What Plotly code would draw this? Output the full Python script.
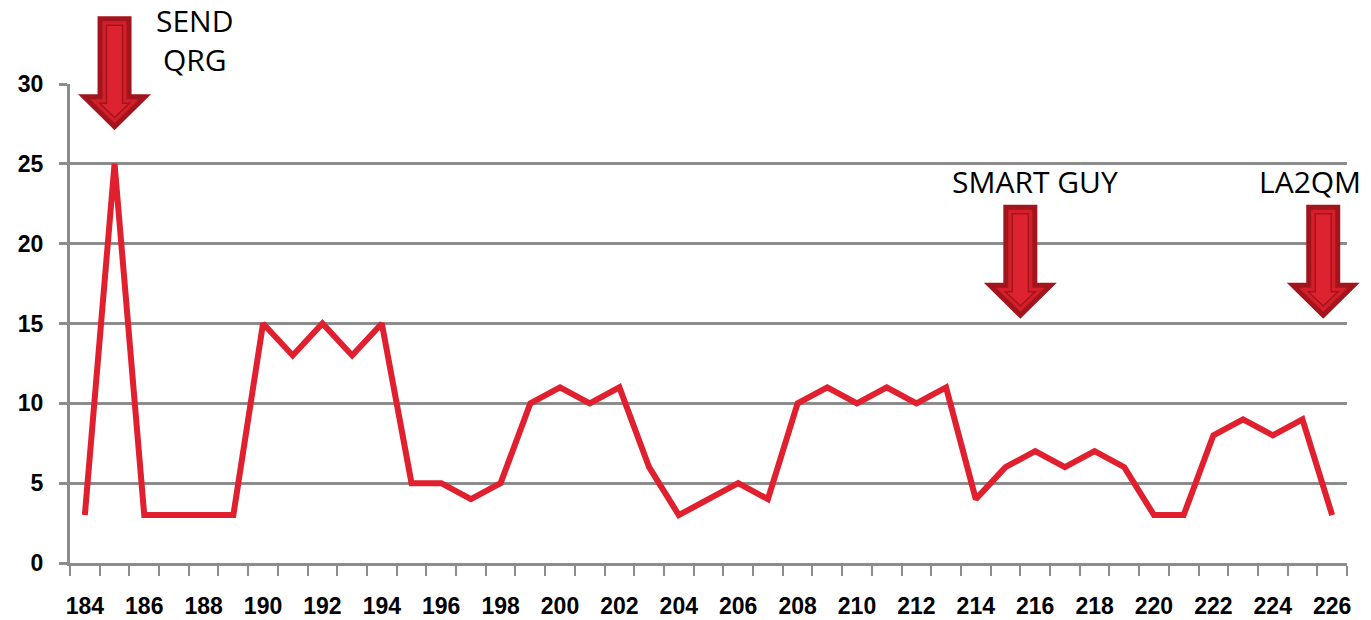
import plotly.graph_objects as go

# ---- data ----
categories = list(range(184, 227))
values = [3, 25, 3, 3, 3, 3, 15, 13, 15, 13, 15, 5, 5, 4, 5, 10, 11, 10, 11, 6,
          3, 4, 5, 4, 10, 11, 10, 11, 10, 11, 4, 6, 7, 6, 7, 6, 3, 3, 8, 9, 8, 9, 3]
tick_labels = [str(v) for v in range(184, 227, 2)]
y_ticks = [0, 5, 10, 15, 20, 25, 30]

note_texts = ["SEND<br>QRG", "SMART GUY", "LA2QM"]
note_x = [187.7, 216.0, 225.25]
note_y = [32.75, 23.9, 23.9]

arrow_x = [185.0, 215.5, 225.7]
arrow_tip_y = [27.1, 15.3, 15.3]

# ---- layout geometry ----
W, H = 1371, 620
ML, MR, MT, MB = 70, 24, 84, 57
PW, PH = W - ML - MR, H - MT - MB
XMIN, XMAX = 183.5, 226.5
YMIN, YMAX = 0, 30

GRAY = "#8c8c8c"
RED = "#e0202e"

fig = go.Figure()
fig.add_trace(go.Scatter(
    x=categories, y=values, mode="lines",
    line=dict(color=RED, width=6), hoverinfo="x+y", showlegend=False,
))


def to_paper(x, y):
    return (x - XMIN) / (XMAX - XMIN), (y - YMIN) / (YMAX - YMIN)


def arrow_path(xc, ytip, d):
    # pixel geometry relative to tip (y up)
    L, HL, hw, HW = 114, 36, 17, 36.5
    s2 = 2 ** 0.5
    pts = [
        (0, d * s2),
        (HW - d * (1 + s2), HL - d),
        (hw - d, HL - d),
        (hw - d, L - d),
        (-(hw - d), L - d),
        (-(hw - d), HL - d),
        (-(HW - d * (1 + s2)), HL - d),
    ]
    px, py = to_paper(xc, ytip)
    segs = []
    for i, (dx, dy) in enumerate(pts):
        segs.append(("M" if i == 0 else "L") + f"{px + dx / PW:.5f},{py + dy / PH:.5f}")
    return " ".join(segs) + " Z"


shapes = []
for xa, ya in zip(arrow_x, arrow_tip_y):
    shapes.append(dict(type="path", xref="paper", yref="paper", path=arrow_path(xa, ya, 0),
                       fillcolor="#a3151d", line=dict(width=0), layer="above"))
    shapes.append(dict(type="path", xref="paper", yref="paper", path=arrow_path(xa, ya, 5),
                       fillcolor="#d41f2b", line=dict(width=0), layer="above"))
    shapes.append(dict(type="path", xref="paper", yref="paper", path=arrow_path(xa, ya, 9),
                       fillcolor="#de2330", line=dict(color="#a3151d", width=1.5), layer="above"))

annotations = []
for t, xn, yn in zip(note_texts, note_x, note_y):
    px, py = to_paper(xn, yn)
    annotations.append(dict(x=px, y=py, xref="paper", yref="paper", text=t, showarrow=False,
                            font=dict(family="Open Sans", size=30, color="#000000"),
                            xanchor="center", yanchor="middle", align="center"))

fig.update_layout(
    width=W, height=H,
    margin=dict(l=ML, r=MR, t=MT, b=MB, pad=0, autoexpand=False),
    paper_bgcolor="white", plot_bgcolor="white",
    shapes=shapes, annotations=annotations,
    showlegend=False,
    xaxis=dict(
        range=[XMIN, XMAX], showgrid=False, zeroline=False, automargin=False,
        showline=True, linecolor=GRAY, linewidth=3,
        tickmode="array", tickvals=list(range(184, 227, 2)), ticktext=tick_labels,
        ticks="", ticklabelstandoff=20,
        tickfont=dict(family="Liberation Sans", size=23, color="#000000", weight="bold"),
        minor=dict(tickmode="array", tickvals=[c - 0.5 for c in categories] + [categories[-1] + 0.5],
                   ticks="outside", ticklen=10, tickwidth=2, tickcolor=GRAY, showgrid=False),
        fixedrange=True,
    ),
    yaxis=dict(
        range=[YMIN, YMAX], tickvals=y_ticks, automargin=False,
        showgrid=True, gridcolor=GRAY, gridwidth=3, zeroline=False,
        showline=True, linecolor=GRAY, linewidth=3,
        ticks="outside", ticklen=8, tickwidth=3, tickcolor=GRAY,
        ticklabelstandoff=11,
        tickfont=dict(family="Liberation Sans", size=23, color="#000000", weight="bold"),
        fixedrange=True,
    ),
)

fig.write_html("out.html", config={"displayModeBar": False},
               post_script="document.body.style.margin='0px';")
